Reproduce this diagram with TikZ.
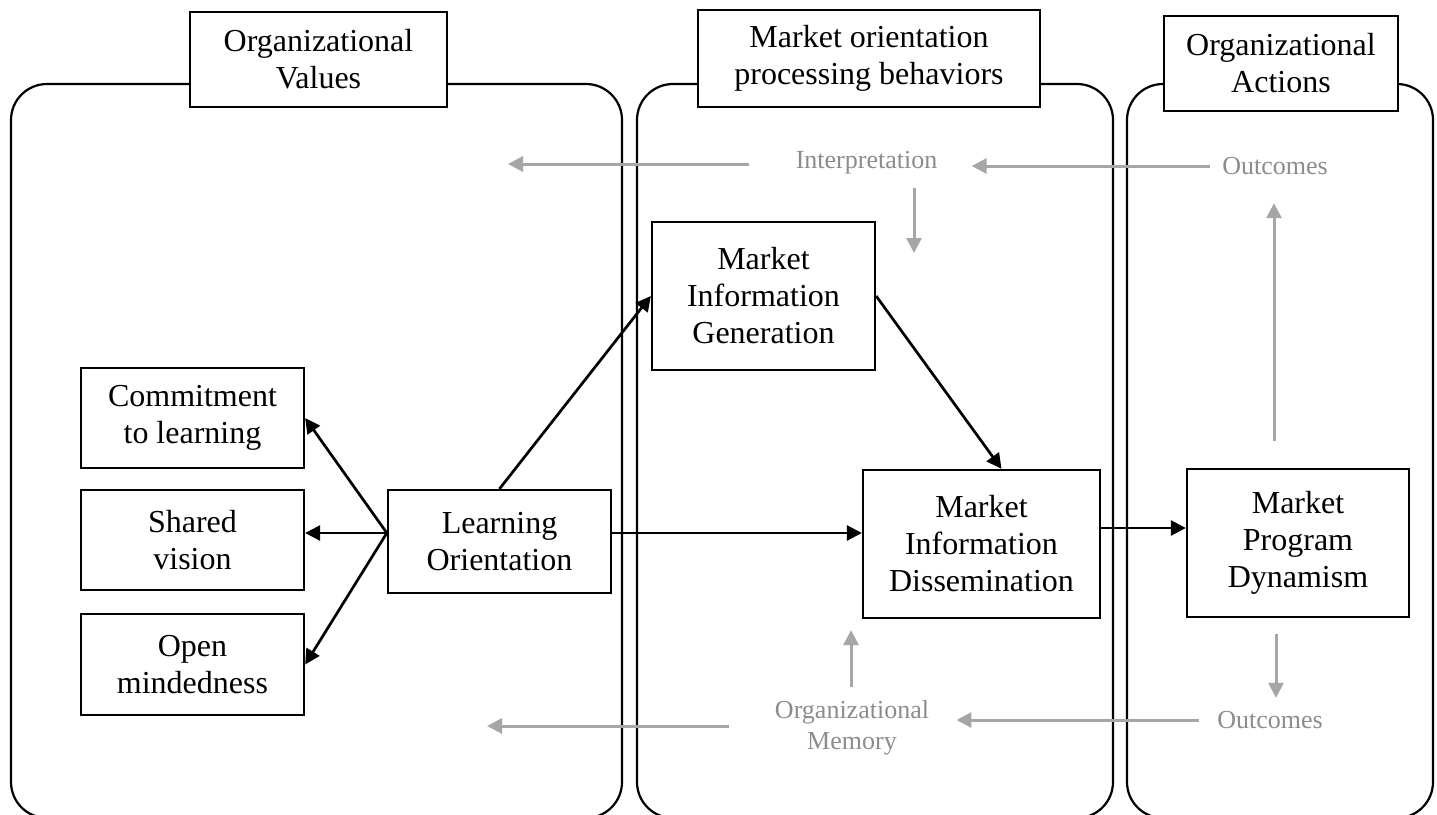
\documentclass[tikz,border=0pt]{standalone}
\usepackage{fontspec}
\setmainfont{Liberation Serif}
\usetikzlibrary{arrows.meta}
\definecolor{gline}{RGB}{166,166,166}
\definecolor{gtxt}{RGB}{140,140,140}
\begin{document}
\begin{tikzpicture}[x=0.5pt,y=-0.5pt,
  box/.style={draw, line width=1.15pt, fill=white, align=center, inner sep=0pt,
    font=\fontsize{16}{18.5}\selectfont},
  gtext/.style={text=gtxt, inner sep=0pt, align=center,
    font=\fontsize{13}{15.5}\selectfont},
  barrow/.style={-{Triangle[length=7.5pt,width=7.5pt]}, line width=1.35pt},
  garrow/.style={draw=gline, -{Triangle[length=7.5pt,width=7.5pt]}, line width=1.5pt},
  panel/.style={draw, line width=1.1pt, rounded corners=18pt}]
\useasboundingbox (0,0) rectangle (1437,815);

% three columns
\draw[panel] (11,84) rectangle (622,818);
\draw[panel] (637,84) rectangle (1113,818);
\draw[panel] (1127,84) rectangle (1433,818);

% column headings
\node[box, minimum width=128.5pt, minimum height=47.5pt] (hdrA) at (318.5,59.5) {Organizational\\Values};
\node[box, minimum width=171pt, minimum height=48.5pt] (hdrB) at (869,58.5) {Market orientation\\processing behaviors};
\node[box, minimum width=117pt, minimum height=47.5pt] (hdrC) at (1281,63.5) {Organizational\\Actions};

% construct boxes
\node[box, minimum width=111.5pt, minimum height=50pt] (commit) at (192.5,418) {Commitment\\to learning};
\node[box, minimum width=111.5pt, minimum height=50pt] (shared) at (192.5,540) {Shared\\vision};
\node[box, minimum width=111.5pt, minimum height=50.5pt] (open) at (192.5,664.5) {Open\\mindedness};
\node[box, minimum width=111.5pt, minimum height=51.5pt] (lo) at (499.5,541.5) {Learning\\Orientation};
\node[box, minimum width=111.5pt, minimum height=74pt] (mig) at (763.5,296) {Market\\Information\\Generation};
\node[box, minimum width=118.5pt, minimum height=74pt] (mid) at (981.5,544) {Market\\Information\\Dissemination};
\node[box, minimum width=111pt, minimum height=74pt] (mpd) at (1298,543) {Market\\Program\\Dynamism};

% feedback labels
\node[gtext] (interp) at (866.5,163) {Interpretation};
\node[gtext] (outtop) at (1275,166) {Outcomes};
\node[gtext] (orgmem) at (852,728) {Organizational\\Memory};
\node[gtext] (outbot) at (1270,720) {Outcomes};
\coordinate (ileft) at (508,164);
\coordinate (idown) at (914,253);
\coordinate (mleft) at (487,726);

% main paths
\draw[barrow] ([yshift=4.25pt]lo.west) -- (commit.east);
\draw[barrow] ([yshift=4.25pt]lo.west) -- ([yshift=4.25pt]lo.west -| shared.east);
\draw[barrow] ([yshift=4.25pt]lo.west) -- (open.east);
\draw[barrow] (lo.north) -- (mig.west);
\draw[barrow] (mig.east) -- ([xshift=10pt]mid.north);
\draw[barrow] ([yshift=4.25pt]lo.east) -- ([yshift=4.25pt]lo.east -| mid.west);
\draw[barrow] ([yshift=8pt]mid.east) -- ([yshift=8pt]mid.east -| mpd.west);

% feedback loops
\draw[garrow, shorten <=23pt] ([yshift=-0.5pt]interp.west) -- (ileft);
\draw[garrow, shorten <=6pt, shorten >=17pt] (outtop.west) -- (outtop.west -| interp.east);
\draw[garrow, shorten <=6.8pt] ([xshift=23.75pt]interp.south) -- (idown);
\draw[garrow, shorten <=13.5pt, shorten >=14pt] ([xshift=-12pt]mpd.north) -- ([xshift=-12pt]mpd.north |- outtop.south);
\draw[garrow, shorten <=8pt, shorten >=6.5pt] ([xshift=-11pt]mpd.south) -- ([xshift=-11pt]mpd.south |- outbot.north);
\draw[garrow, shorten <=9pt, shorten >=13.5pt] (outbot.west) -- (outbot.west -| orgmem.east);
\draw[garrow, shorten <=6.5pt, shorten >=5.5pt] ([xshift=-0.5pt]orgmem.north) -- ([xshift=-0.5pt]orgmem.north |- mid.south);
\draw[garrow, shorten <=23pt] ([yshift=1pt]orgmem.west) -- (mleft);
\end{tikzpicture}
\end{document}
